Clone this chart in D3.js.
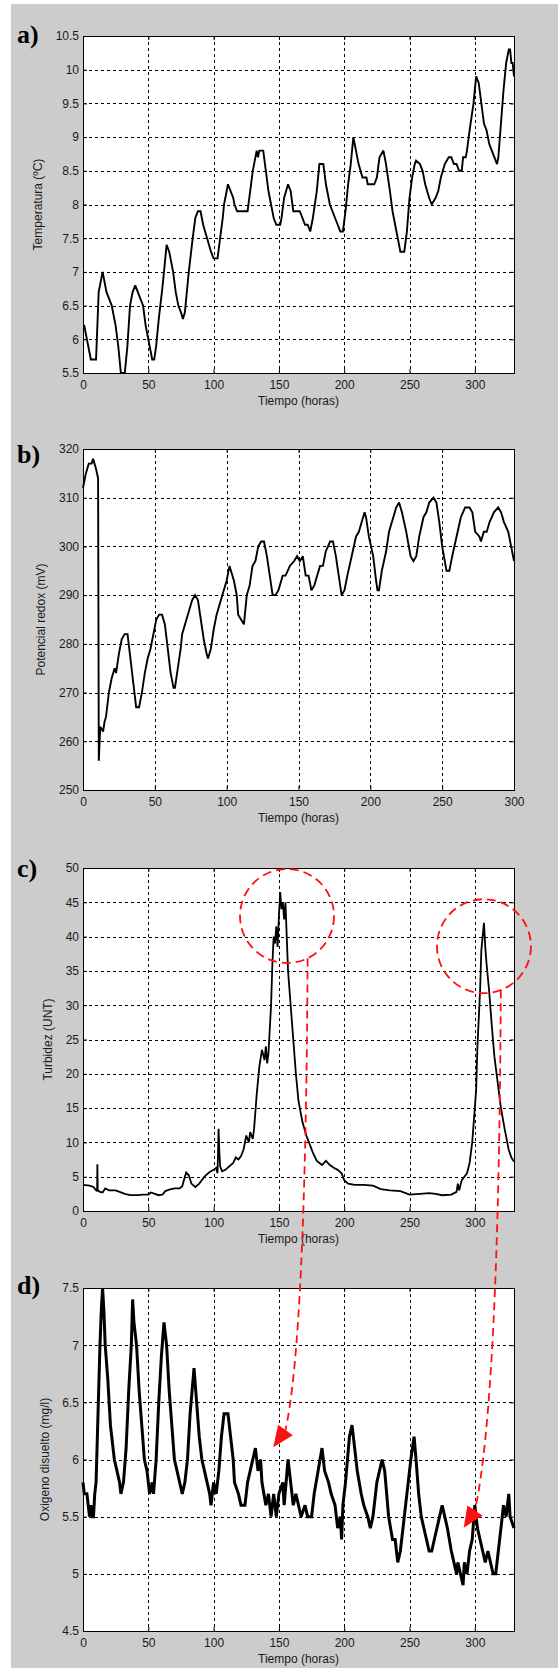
<!DOCTYPE html>
<html>
<head>
<meta charset="utf-8">
<script src="https://cdn.jsdelivr.net/npm/d3@7"></script>
<style>
  body { margin: 0; background: #ffffff; }
  svg { display: block; }
</style>
</head>
<body>
<svg id="chart" width="558" height="1668"></svg>
<script>
// ---- data (hours, value) ----
const temperature = [[0,6.2],[1,6.2],[2,6.1],[4,5.9],[6,5.7],[10,5.7],[12,6.7],[15,7.0],[16,6.9],[18,6.7],[20,6.6],[22,6.5],[25,6.2],[27,5.9],[29,5.5],[32,5.5],[34,5.9],[36,6.5],[38,6.7],[40,6.8],[42,6.7],[44,6.6],[46,6.5],[48,6.2],[50,6.0],[52,5.8],[53,5.7],[54.5,5.7],[56,5.9],[58,6.3],[61,6.8],[63,7.2],[64,7.4],[66,7.3],[69,7.0],[71,6.7],[73,6.5],[75,6.4],[76.5,6.3],[78,6.4],[79,6.6],[81,7.0],[84,7.5],[86,7.8],[88,7.9],[90,7.9],[92,7.7],[95,7.5],[98,7.3],[100,7.2],[103,7.2],[105,7.5],[107,7.8],[108,8.0],[110,8.2],[111,8.3],[113,8.2],[115,8.1],[116,8.0],[118,7.9],[126,7.9],[128,8.2],[130,8.5],[133,8.8],[134,8.7],[135,8.8],[138,8.8],[140,8.5],[142,8.2],[144,8.0],[146,7.8],[148,7.7],[151,7.7],[152,7.8],[154,8.1],[157,8.3],[159,8.2],[161,7.9],[166,7.9],[168,7.8],[170,7.7],[172,7.7],[174,7.6],[176,7.8],[179,8.2],[181,8.6],[184,8.6],[186,8.3],[189,8.0],[193,7.8],[195,7.7],[197,7.6],[199,7.6],[201,7.9],[203,8.3],[205,8.6],[207,9.0],[209,8.8],[211,8.6],[214,8.4],[217,8.4],[218,8.3],[223,8.3],[225,8.4],[227,8.7],[230,8.8],[232,8.6],[235,8.2],[237,7.9],[240,7.6],[243,7.3],[246,7.3],[248,7.6],[250,8.1],[252,8.4],[254,8.6],[255,8.65],[258,8.6],[260,8.5],[262,8.3],[265,8.1],[267,8.0],[270,8.1],[272,8.2],[274,8.4],[277,8.6],[280,8.7],[282,8.7],[284,8.6],[286,8.6],[288,8.5],[290,8.5],[291,8.7],[293,8.7],[294,8.8],[296,9.1],[299,9.5],[300,9.7],[301,9.9],[303,9.8],[305,9.5],[307,9.2],[309,9.1],[311,8.9],[313,8.8],[315,8.7],[317,8.6],[318,8.7],[320,9.2],[322,9.7],[324,10.1],[326,10.3],[327,10.3],[328,10.1],[329,10.1],[330,9.9]];

const redox = [[0,312],[2,315],[4,317],[6,317],[7,318],[8,317],[9,316],[10.5,314],[11,256],[12,263],[14,262],[15,264],[16,265],[18,270],[20,273],[22,275],[23,274],[25,278],[27,281],[29,282],[31,282],[33,277],[35,272],[37,267],[39,267],[41,270],[43,274],[45,277],[47,279],[49,282],[51,285],[53,286],[55,286],[57,284],[59,279],[61,274],[63,271],[64,271],[66,275],[68,279],[69,282],[72,285],[74,287],[76,289],[78,290],[80,289],[82,285],[84,281],[86,278],[87,277],[89,279],[91,283],[93,286],[96,289],[98,291],[100,293],[102,296],[105,293],[107,290],[108,286],[110,285],[112,284],[114,290],[116,292],[118,296],[120,297],[122,300],[124,301],[126,301],[128,298],[130,294],[132,290],[134,290],[136,291],[137,292],[139,294],[141,294],[144,296],[147,297],[149,298],[151,297],[153,298],[155,294],[157,294],[159,291],[161,292],[162,293],[165,296],[167,296],[169,299],[172,301],[174,301],[176,298],[178,294],[180,290],[182,291],[184,294],[187,298],[190,302],[192,303],[194,305],[196,307],[197,306],[199,302],[202,298],[204,293],[205,291],[206,291],[208,295],[211,299],[213,303],[216,306],[218,308],[220,309],[222,307],[225,303],[228,298],[230,297],[232,298],[234,302],[237,306],[239,307],[241,309],[244,310],[246,309],[248,305],[250,300],[253,295],[255,295],[257,298],[260,302],[263,306],[266,308],[269,308],[271,307],[273,303],[276,302],[277,301],[279,303],[281,303],[283,305],[286,307],[289,308],[291,307],[293,305],[296,303],[298,300],[300,297]];

const turbidity = [[0,3.8],[5,3.7],[8,3.5],[10,3.0],[10.8,2.9],[11,6.8],[11.3,3.0],[13,2.8],[15,2.7],[16,3.0],[17,3.3],[20,3.0],[25,3.0],[28,2.8],[32,2.5],[36,2.3],[42,2.3],[46,2.4],[50,2.4],[52,2.7],[55,2.5],[58,2.3],[61,2.4],[63,2.9],[66,3.1],[70,3.3],[74,3.3],[76,3.6],[78,5.0],[79,5.6],[81,5.2],[83,4.0],[86,3.5],[89,4.0],[93,5.0],[97,5.7],[100,6.0],[102,6.3],[103,5.5],[103.8,12.0],[104.3,9.0],[105,6.5],[106.5,5.8],[109,6.0],[112,6.5],[115,7.0],[117,7.8],[119,7.5],[121,8.0],[123,9.0],[125,11.0],[127,10.0],[128,11.5],[130,10.5],[131,12.0],[133,17.0],[135,21.0],[137,23.5],[139,22.0],[140,24.0],[141,21.5],[142,23.0],[144,30.0],[145,36.0],[146,40.0],[147,39.0],[148,41.5],[149,38.5],[150,43.0],[151,46.5],[152,44.0],[153,45.0],[154,42.5],[155,45.0],[156,40.0],[157,35.0],[159,30.0],[161,25.0],[163,20.0],[165,16.0],[168,13.0],[171,11.0],[173,10.0],[176,8.5],[179,7.3],[183,6.7],[186,7.3],[189,6.7],[192,6.3],[195,6.0],[198,5.5],[200,4.5],[203,4.0],[208,3.8],[215,3.8],[222,3.7],[228,3.2],[235,3.0],[243,2.9],[250,2.4],[258,2.5],[265,2.6],[270,2.5],[275,2.3],[282,2.4],[286,2.8],[287,4.0],[288,3.0],[290,4.5],[292,5.0],[294,5.5],[296,7.0],[298,10.0],[300,15.0],[301,17.6],[302,24.0],[304,32.0],[305,38.0],[306,40.0],[307,42.0],[308,38.5],[309,36.0],[311,32.0],[313,27.0],[315,22.5],[318,18.0],[320,15.0],[323,11.8],[326,8.9],[328,7.8],[330,7.2]];

const oxygen = [[0,5.8],[1,5.7],[3,5.7],[4,5.6],[5,5.5],[6,5.6],[7,5.5],[8,5.5],[9,5.7],[10,5.8],[11,6.2],[12,6.6],[13,7.0],[14,7.3],[15,7.5],[16,7.3],[17,7.0],[19,6.7],[21,6.3],[23,6.1],[24,6.0],[26,5.9],[28,5.8],[29,5.7],[31,5.8],[33,6.1],[35,6.6],[37,7.0],[38,7.4],[39,7.2],[41,7.0],[43,6.6],[45,6.3],[47,6.0],[49,5.9],[51,5.7],[53,5.8],[54,5.7],[56,6.0],[58,6.5],[60,6.9],[62,7.2],[64,7.0],[66,6.6],[68,6.3],[70,6.0],[72,5.9],[74,5.8],[76,5.7],[78,5.8],[80,6.0],[82,6.4],[85,6.8],[87,6.5],[89,6.2],[91,6.0],[93,5.9],[95,5.8],[97,5.7],[98,5.6],[100,5.8],[102,5.7],[104,5.9],[106,6.2],[108,6.4],[111,6.4],[113,6.2],[115,6.0],[116,5.8],[119,5.7],[121,5.6],[124,5.6],[126,5.8],[130,6.0],[132,6.1],[134,5.9],[136,6.0],[137,5.8],[140,5.6],[142,5.7],[144,5.5],[146,5.7],[148,5.5],[150,5.7],[153,5.8],[154,5.6],[157,6.0],[159,5.8],[161,5.6],[163,5.7],[165,5.6],[167,5.5],[170,5.6],[172,5.5],[175,5.5],[177,5.7],[180,5.9],[183,6.1],[185,5.9],[188,5.8],[190,5.7],[193,5.6],[195,5.4],[197,5.5],[198,5.3],[199,5.6],[201,5.8],[204,6.2],[206,6.3],[208,6.1],[210,5.9],[213,5.7],[215,5.6],[218,5.5],[220,5.4],[222,5.5],[225,5.8],[229,6.0],[231,5.9],[234,5.5],[237,5.3],[239,5.3],[241,5.1],[243,5.2],[245,5.4],[248,5.7],[251,6.0],[253.5,6.2],[255,6.0],[257,5.7],[259,5.5],[261,5.4],[263,5.3],[265,5.2],[267,5.2],[269,5.3],[271,5.4],[273,5.5],[275,5.6],[277,5.5],[279,5.4],[282,5.2],[284,5.1],[286,5.0],[287,5.1],[289,5.0],[291,4.9],[292,5.1],[294,5.0],[296,5.2],[298,5.3],[300,5.6],[302,5.4],[304,5.3],[306,5.2],[308,5.1],[310,5.2],[312,5.1],[314,5.0],[316,5.0],[318,5.2],[320,5.4],[322,5.6],[324,5.5],[326,5.7],[327,5.5],[330,5.4]];

// ---- labels and ticks ----
const panelLetters = ['a)', 'b)', 'c)', 'd)'];
const yTitles = ['Temperatura (\u00baC)', 'Potencial redox (mV)', 'Turbidez (UNT)', 'Oxigeno disuelto (mg/l)'];
const xTitle = 'Tiempo (horas)';
const xDomains = [[0, 330], [0, 300], [0, 330], [0, 330]];
const yDomains = [[5.5, 10.5], [250, 320], [0, 50], [4.5, 7.5]];
const xTickValues = [0, 50, 100, 150, 200, 250, 300];
const yTickValues = [
  [5.5, 6, 6.5, 7, 7.5, 8, 8.5, 9, 9.5, 10, 10.5],
  [250, 260, 270, 280, 290, 300, 310, 320],
  [0, 5, 10, 15, 20, 25, 30, 35, 40, 45, 50],
  [4.5, 5, 5.5, 6, 6.5, 7, 7.5]
];
const seriesList = [temperature, redox, turbidity, oxygen];

// red annotations: circles in panel c, arrow tips in panel d (data units)
const circleCenters = [[156.2, 43.0], [307.0, 38.6]];
const arrowTips = [[145.7, 6.107], [291.5, 5.403]];
const arrowBases = [[155.0, 6.258], [300.1, 5.554]];

// ---- layout ----
const plotLeft = 83, plotRight = 514;
const panelBox = [
  { top: 36, bottom: 373, letterDy: 6.5 },
  { top: 449, bottom: 790, letterDy: 13.5 },
  { top: 868, bottom: 1211, letterDy: 8.5 },
  { top: 1288, bottom: 1631, letterDy: 5.5 }
];
const lineWidths = [1.9, 1.9, 1.8, 3.0];
const font = '"Liberation Sans", Arial, sans-serif';

const svg = d3.select('#chart');
svg.append('rect')
  .attr('x', 11).attr('y', 4)
  .attr('width', 558 - 11).attr('height', 1668 - 4)
  .attr('fill', '#cccccc');

const scales = [];

panelBox.forEach((box, i) => {
  const x = d3.scaleLinear().domain(xDomains[i]).range([plotLeft, plotRight]);
  const y = d3.scaleLinear().domain(yDomains[i]).range([box.bottom, box.top]);
  scales.push({ x, y });

  const g = svg.append('g').attr('class', 'panel panel-' + i);

  g.append('rect')
    .attr('x', plotLeft).attr('y', box.top)
    .attr('width', plotRight - plotLeft).attr('height', box.bottom - box.top)
    .attr('fill', '#ffffff');

  // grid
  const grid = g.append('g').attr('class', 'grid')
    .attr('stroke', '#000').attr('stroke-width', 1).attr('stroke-dasharray', '3,3')
    .attr('shape-rendering', 'crispEdges');
  xTickValues.filter(v => v > xDomains[i][0] && v < xDomains[i][1]).forEach(v => {
    grid.append('line')
      .attr('x1', Math.round(x(v)) + 0.5).attr('x2', Math.round(x(v)) + 0.5)
      .attr('y1', box.top).attr('y2', box.bottom);
  });
  yTickValues[i].filter(v => v > yDomains[i][0] && v < yDomains[i][1]).forEach(v => {
    grid.append('line')
      .attr('x1', plotLeft).attr('x2', plotRight)
      .attr('y1', Math.round(y(v)) + 0.5).attr('y2', Math.round(y(v)) + 0.5);
  });

  // series
  const line = d3.line().x(d => x(d[0])).y(d => y(d[1]));
  g.append('path')
    .datum(seriesList[i])
    .attr('d', line)
    .attr('fill', 'none')
    .attr('stroke', '#000')
    .attr('stroke-width', lineWidths[i])
    .attr('stroke-linejoin', 'miter')
    .attr('stroke-miterlimit', 2);

  // axes (ticks pointing inwards, MATLAB style)
  const xAxis = d3.axisBottom(x).tickValues(xTickValues).tickSize(-4).tickPadding(7.5).tickFormat(d => String(d));
  const yAxis = d3.axisLeft(y).tickValues(yTickValues[i]).tickSize(-4).tickPadding(4).tickFormat(d => String(d));
  const xg = g.append('g').attr('transform', `translate(0,${box.bottom})`).call(xAxis);
  const yg = g.append('g').attr('transform', `translate(${plotLeft},0)`).call(yAxis);
  [xg, yg].forEach(ax => {
    ax.select('.domain').remove();
    ax.selectAll('line').attr('stroke', '#000');
    ax.selectAll('text')
      .attr('fill', '#1a1a1a')
      .style('font-family', font)
      .style('font-size', '12px');
  });
  // top / right ticks
  g.append('g').attr('transform', `translate(0,${box.top})`)
    .call(d3.axisTop(x).tickValues(xTickValues).tickSize(-4).tickFormat(''))
    .call(a => a.select('.domain').remove());
  g.append('g').attr('transform', `translate(${plotRight},0)`)
    .call(d3.axisRight(y).tickValues(yTickValues[i]).tickSize(-4).tickFormat(''))
    .call(a => a.select('.domain').remove());

  // box
  g.append('rect')
    .attr('x', plotLeft + 0.5).attr('y', box.top + 0.5)
    .attr('width', plotRight - plotLeft).attr('height', box.bottom - box.top)
    .attr('fill', 'none').attr('stroke', '#000').attr('stroke-width', 1)
    .attr('shape-rendering', 'crispEdges');

  // x title
  g.append('text')
    .attr('x', (plotLeft + plotRight) / 2)
    .attr('y', box.bottom + 32)
    .attr('text-anchor', 'middle')
    .attr('fill', '#1a1a1a')
    .style('font-family', font).style('font-size', '12px')
    .text(xTitle);

  // y title, placed left of the widest tick label
  let widest = 0;
  yg.selectAll('text').each(function () { widest = Math.max(widest, this.getComputedTextLength()); });
  const yTitleX = plotLeft - 4 - widest - 18;
  g.append('text')
    .attr('transform', `translate(${yTitleX},${(box.top + box.bottom) / 2}) rotate(-90)`)
    .attr('text-anchor', 'middle')
    .attr('dy', '0.35em')
    .attr('fill', '#1a1a1a')
    .style('font-family', font).style('font-size', '12px')
    .text(yTitles[i]);

  // panel letter
  g.append('text')
    .attr('x', 17)
    .attr('y', box.top + box.letterDy)
    .attr('fill', '#000')
    .style('font-family', '"Liberation Serif", "Times New Roman", serif')
    .style('font-weight', 'bold')
    .style('font-size', '26px')
    .text(panelLetters[i]);
});

// ---- red annotations ----
const red = '#ff1010';
const ann = svg.append('g').attr('class', 'annotations');
const circleRadius = 47;
const startAngles = [64, 69];

circleCenters.forEach((c, k) => {
  const cx = scales[2].x(c[0]), cy = scales[2].y(c[1]);
  ann.append('circle')
    .attr('cx', cx).attr('cy', cy).attr('r', circleRadius)
    .attr('fill', 'none').attr('stroke', red)
    .attr('stroke-width', 1.8).attr('stroke-dasharray', '9,5');

  const a = startAngles[k] * Math.PI / 180;
  const sx = cx + circleRadius * Math.cos(a), sy = cy + circleRadius * Math.sin(a);
  const tip = [scales[3].x(arrowTips[k][0]), scales[3].y(arrowTips[k][1])];
  const base = [scales[3].x(arrowBases[k][0]), scales[3].y(arrowBases[k][1])];
  const ctrl = [sx - 2, base[1] - 90 - 20 * k];

  ann.append('path')
    .attr('d', `M${sx},${sy} Q${ctrl[0]},${ctrl[1]} ${base[0]},${base[1]}`)
    .attr('fill', 'none').attr('stroke', red)
    .attr('stroke-width', 1.8).attr('stroke-dasharray', '8,5');

  // arrow head
  const dx = tip[0] - base[0], dy = tip[1] - base[1];
  const len = Math.hypot(dx, dy);
  const px = -dy / len * 9, py = dx / len * 9;
  ann.append('path')
    .attr('d', `M${tip[0]},${tip[1]} L${base[0] + px},${base[1] + py} L${base[0] - px},${base[1] - py} Z`)
    .attr('fill', red).attr('stroke', 'none');
});
</script>
</body>
</html>
